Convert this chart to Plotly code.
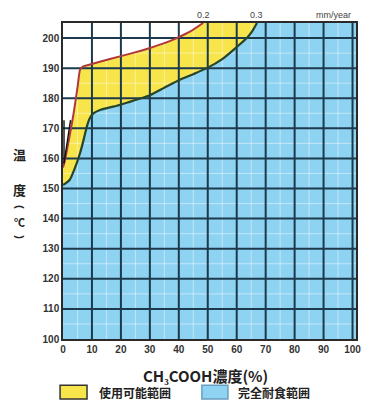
import plotly.graph_objects as go

# CH3COOH concentration (%) vs. temperature (°C) boundary curves
upper_x = [0, 0.7, 2, 3.5, 5, 5.9, 7, 9.3, 13, 20, 26.6, 30, 35, 39.3, 44, 48.4]
upper_t = [157, 159.5, 166, 174, 183.5, 189.5, 190.6, 191.2, 192.2, 194, 195.7, 196.7, 198.3, 200, 202.2, 205]

lower_x = [0, 1, 2.4, 4, 5.9, 7.2, 8.2, 9.2, 10.5, 13, 18.6, 23, 27, 30, 35, 40, 45, 49.7, 55, 60, 63.5, 65.5, 67]
lower_t = [151.2, 151.8, 153, 156.5, 161.8, 166.5, 170.5, 173.3, 175, 176.2, 177.5, 178.8, 180, 181, 183.5, 186, 188, 190, 193, 197, 200, 202.5, 205]

# stray marker strokes near the left axis
mark_x = [0.35, 0.35, None, 0.35, 2.6]
mark_t = [158.4, 172.7, None, 158.4, 172.7]

x_ticks = [0, 10, 20, 30, 40, 50, 60, 70, 80, 90, 100]
y_ticks = [100, 110, 120, 130, 140, 150, 160, 170, 180, 190, 200]
iso_labels = ["0.2", "0.3"]
unit_label = "mm/year"
legend_labels = ["使用可能範囲", "完全耐食範囲"]

X_MAX = 101.2
T_MIN, T_MAX = 100, 205

YELLOW = "#f8e54c"
BLUE = "#8fd3f2"
GRID = "#1c3a4c"

fig = go.Figure()

# fully resistant region (below lower curve)
fig.add_trace(go.Scatter(
    x=lower_x + [X_MAX, X_MAX, 0],
    y=lower_t + [T_MAX, T_MIN, T_MIN],
    fill="toself", fillcolor=BLUE, line=dict(width=0),
    mode="lines", hoverinfo="skip", showlegend=False))

# usable region (between the curves)
fig.add_trace(go.Scatter(
    x=upper_x + [lower_x[-1]] + lower_x[::-1],
    y=upper_t + [T_MAX] + lower_t[::-1],
    fill="toself", fillcolor=YELLOW, line=dict(width=0),
    mode="lines", hoverinfo="skip", showlegend=False))

# minor grid (light) and major grid (dark) drawn over the fills
minor_x, minor_y = [], []
for v in x_ticks:
    if v + 5 <= X_MAX:
        minor_x += [v + 5, v + 5, None]
        minor_y += [T_MIN, T_MAX, None]
for v in y_ticks:
    if v + 5 < T_MAX:
        minor_x += [0, X_MAX, None]
        minor_y += [v + 5, v + 5, None]
fig.add_trace(go.Scatter(x=minor_x, y=minor_y, mode="lines",
                         line=dict(color="rgba(255,255,255,0.45)", width=1),
                         hoverinfo="skip", showlegend=False))

grid_x, grid_y = [], []
for v in x_ticks[1:]:
    grid_x += [v, v, None]
    grid_y += [T_MIN, T_MAX, None]
for v in y_ticks[1:]:
    grid_x += [0, X_MAX, None]
    grid_y += [v, v, None]
fig.add_trace(go.Scatter(x=grid_x, y=grid_y, mode="lines",
                         line=dict(color=GRID, width=2),
                         hoverinfo="skip", showlegend=False))

# boundary curves
fig.add_trace(go.Scatter(x=upper_x, y=upper_t, mode="lines",
                         line=dict(color="#b0383c", width=2, shape="spline", smoothing=0.5),
                         hoverinfo="skip", showlegend=False))
fig.add_trace(go.Scatter(x=lower_x, y=lower_t, mode="lines",
                         line=dict(color="#27452a", width=2.2, shape="spline", smoothing=0.5),
                         hoverinfo="skip", showlegend=False))
fig.add_trace(go.Scatter(x=mark_x, y=mark_t, mode="lines",
                         line=dict(color="#111111", width=1.4),
                         hoverinfo="skip", showlegend=False))

tick_font = dict(family="Liberation Sans", size=10, color="#333333", weight="bold")
cjk = "Noto Sans CJK JP"

fig.update_layout(
    width=372, height=405,
    margin=dict(l=63, r=16, t=23, b=66),
    paper_bgcolor="white", plot_bgcolor="white",
    xaxis=dict(range=[0, X_MAX], tickvals=x_ticks, ticktext=[str(v) for v in x_ticks],
               showgrid=False, zeroline=False, showline=True, linecolor="#2a2a2a",
               linewidth=1.5, mirror=True, ticks="", tickfont=tick_font, fixedrange=True),
    yaxis=dict(range=[T_MIN, T_MAX], tickvals=y_ticks, ticktext=[str(v) for v in y_ticks],
               showgrid=False, zeroline=False, showline=True, linecolor="#2a2a2a",
               linewidth=1.5, mirror=True, ticks="", tickfont=tick_font, fixedrange=True),
    showlegend=False,
)

annotations = []
# isocorrosion labels above the frame, where each curve meets the top
for lbl, xv in zip(iso_labels, [upper_x[-1], lower_x[-1]]):
    annotations.append(dict(x=xv, y=1.0, xref="x", yref="paper", yanchor="bottom",
                            text=lbl, showarrow=False, yshift=1,
                            font=dict(family="Liberation Sans", size=9, color="#444")))
annotations.append(dict(x=93.5, y=1.0, xref="x", yref="paper", yanchor="bottom",
                        text=unit_label, showarrow=False, yshift=1,
                        font=dict(family="Liberation Sans", size=9, color="#444")))

# x axis title
annotations.append(dict(x=0.488, y=-0.117, xref="paper", yref="paper",
                        xanchor="center", yanchor="middle",
                        text="CH₃COOH濃度(%)", showarrow=False,
                        font=dict(family=cjk, size=15, color="#222", weight="bold")))
# y axis title, stacked vertically (parentheses turned for vertical writing)
for txt, yp, sz, ang, fam in [("温", 0.585, 13, 0, cjk), ("度", 0.472, 13, 0, cjk),
                              ("(", 0.418, 11, 90, "Liberation Sans"),
                              ("℃", 0.370, 11, 0, cjk),
                              (")", 0.322, 11, 90, "Liberation Sans")]:
    annotations.append(dict(x=-0.147, y=yp, xref="paper", yref="paper", text=txt,
                            xanchor="center", yanchor="middle", textangle=ang,
                            showarrow=False,
                            font=dict(family=fam, size=sz, color="#222", weight="bold")))

# legend
shapes = [
    dict(type="rect", xref="paper", yref="paper", x0=-0.010, x1=0.082, y0=-0.190, y1=-0.146,
         fillcolor=YELLOW, line=dict(color="#333", width=1.5)),
    dict(type="rect", xref="paper", yref="paper", x0=0.474, x1=0.563, y0=-0.190, y1=-0.146,
         fillcolor=BLUE, line=dict(color="#6a9fbf", width=1.5)),
]
for txt, xp in zip(legend_labels, [0.116, 0.590]):
    annotations.append(dict(x=xp, y=-0.170, xref="paper", yref="paper",
                            xanchor="left", yanchor="middle",
                            text=txt, showarrow=False,
                            font=dict(family=cjk, size=12, color="#222", weight="bold")))

fig.update_layout(annotations=annotations, shapes=shapes)
fig.write_html("out.html")
